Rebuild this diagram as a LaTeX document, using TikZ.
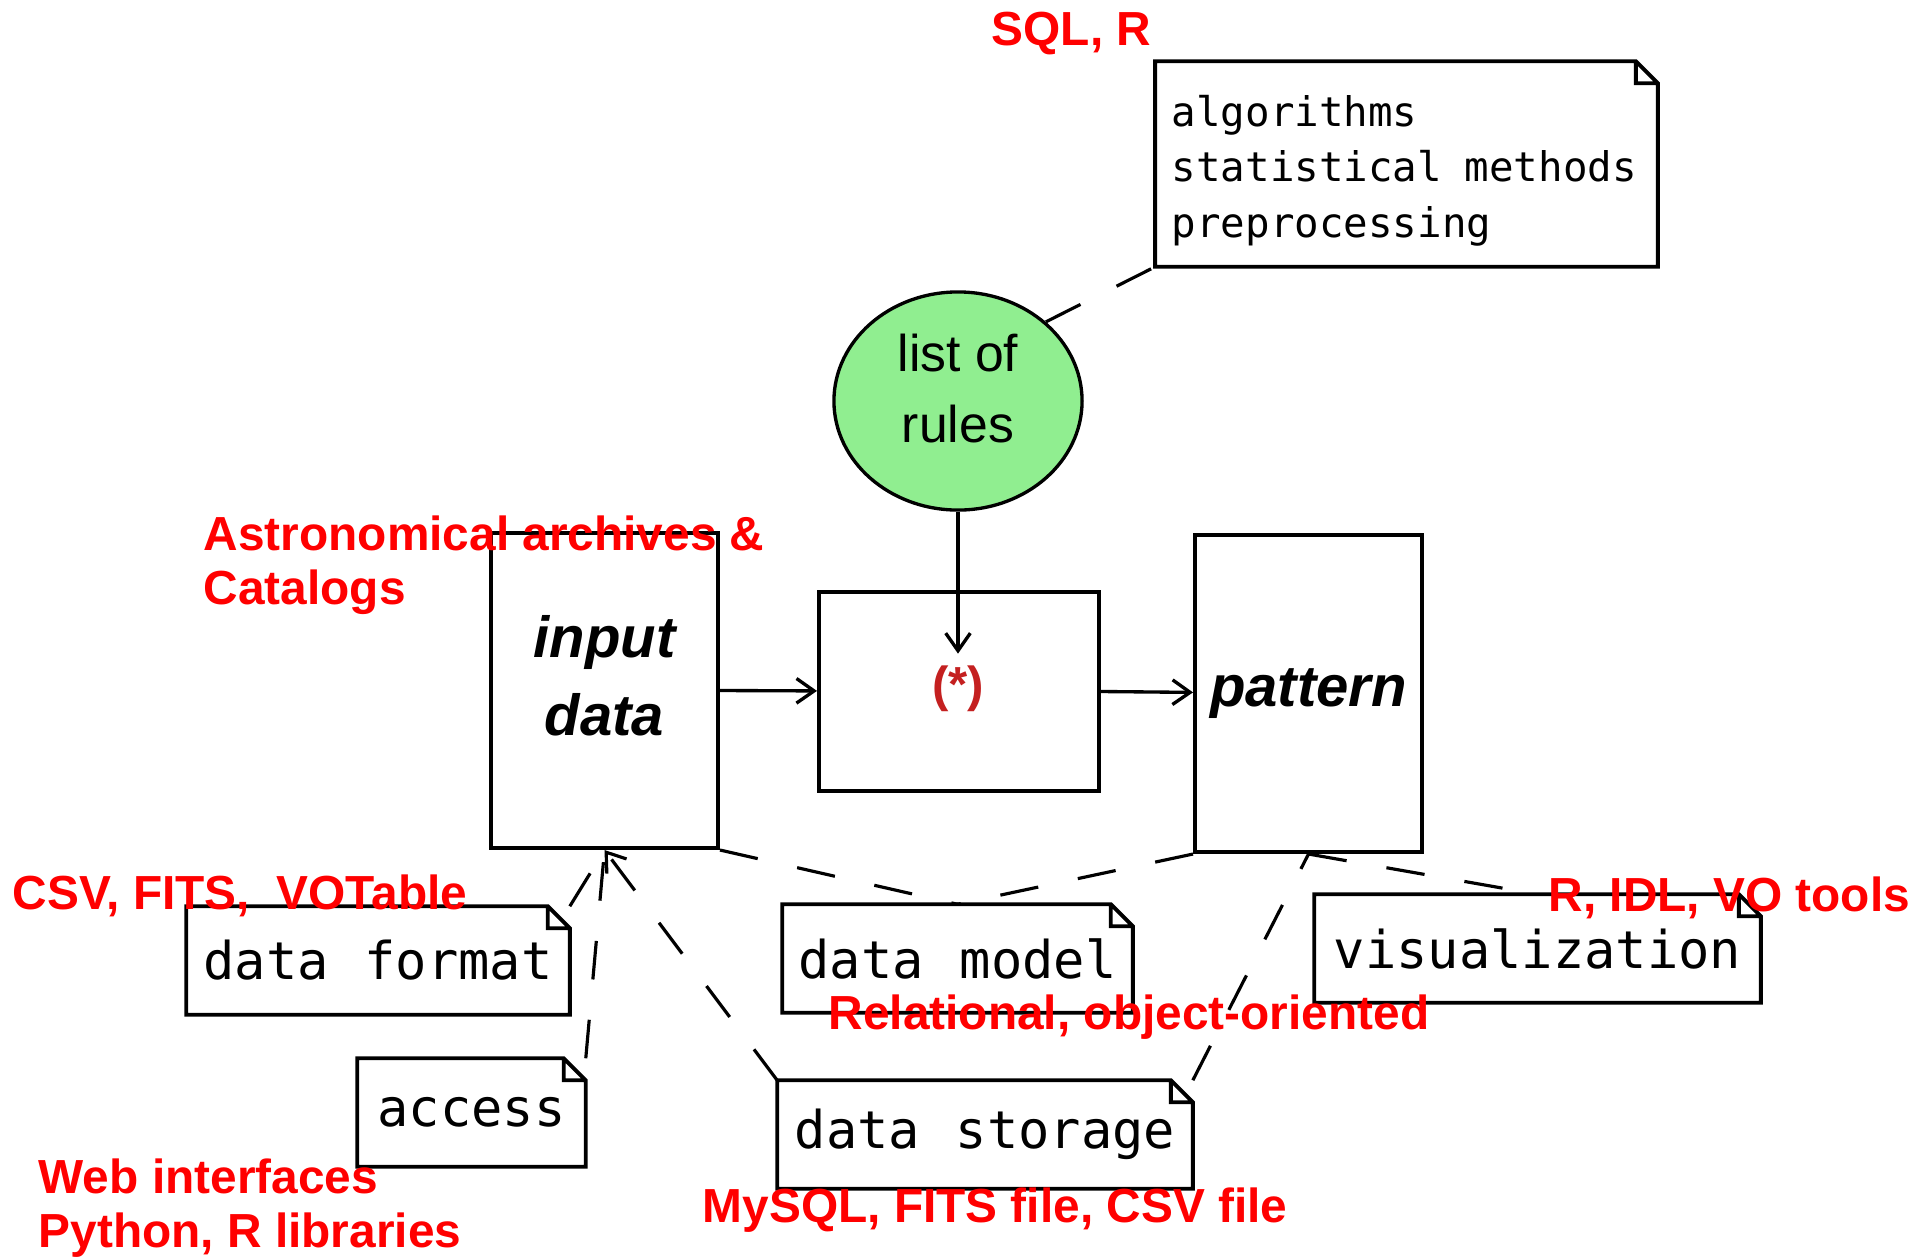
\documentclass[tikz,border=0pt]{standalone}
\usepackage{fontspec}
\setsansfont{Liberation Sans}
\setmonofont{DejaVu Sans Mono}
\usepackage{tikz}
\usetikzlibrary{arrows.meta,shapes.geometric}
\definecolor{rulegreen}{RGB}{144,238,144}
\definecolor{stardark}{RGB}{196,32,32}
\newcommand{\notefont}{\ttfamily\fontsize{14.8}{17}\selectfont\spaceskip=10.2pt\relax}
\newcommand{\smallnotefont}{\ttfamily\fontsize{11.6}{15.9}\selectfont}
\tikzstyle{block}=[draw,line width=1.1pt,rectangle,inner sep=0pt]
\tikzstyle{note}=[rectangle,inner sep=0pt,minimum height=1.07cm,font=\notefont]
\tikzstyle{tag}=[text=red,inner sep=0pt,align=left,font=\sffamily\bfseries\fontsize{13.6}{15.4}\selectfont]
\tikzstyle{dep}=[draw,line width=0.9pt,dash pattern=on 11pt off 11.5pt]
\tikzstyle{flow}=[draw,line width=0.95pt,-{Straight Barb[length=5pt,width=7pt]}]

\begin{document}
\begin{tikzpicture}[x=0.01cm,y=-0.01cm]
  \fill[white] (0,0) rectangle (1930,1257);
  \useasboundingbox (0,0) rectangle (1930,1257);

  % rules, input, method and result
  \node[draw,line width=0.95pt,ellipse,fill=rulegreen,minimum width=2.48cm,minimum height=2.18cm,inner sep=0pt,align=center,font=\sffamily\fontsize{14.7}{20.2}\selectfont] (rules) at (958,401) {list of\\rules\rule[-7pt]{0pt}{7pt}};
  \node[block,minimum width=2.27cm,minimum height=3.15cm,align=center,font=\sffamily\bfseries\itshape\fontsize{16.5}{22.2}\selectfont] (inp) at (604.5,690.5) {input\\data\rule[-8.6pt]{0pt}{8.6pt}};
  \node[block,minimum width=2.80cm,minimum height=1.99cm] (mid) at (959,691.5) {};
  \node[font=\sffamily\bfseries\fontsize{14}{16}\selectfont,text=stardark] (star) at (958,689) {(*)};
  \node[block,minimum width=2.27cm,minimum height=3.17cm,font=\sffamily\bfseries\itshape\fontsize{16.5}{22.2}\selectfont] (pat) at (1308.5,693.5) {pattern};

  % notes
  \node[note,inner xsep=0.16cm,align=left,text width=4.69cm,minimum height=2.04cm,font=\smallnotefont,execute at begin node={\spaceskip=6.5pt\relax}] (algo) at (1406.5,164) {\rule{0pt}{12.7pt}algorithms\\statistical methods\\preprocessing};
  \node[note,minimum width=3.82cm] (fmt) at (378,960.5) {data format};
  \node[note,minimum width=2.27cm] (acc) at (471.5,1112.5) {access};
  \node[note,minimum width=3.49cm] (model) at (957.5,958.5) {data model};
  \node[note,minimum width=4.14cm] (store) at (985,1134.5) {data storage};
  \node[note,minimum width=4.45cm] (vis) at (1537.5,948.5) {visualization};
  \foreach \n in {algo,fmt,acc,model,store,vis}
    \draw[line width=1.1pt] (\n.north west) -- ([xshift=-0.22cm]\n.north east) -- ([yshift=-0.22cm]\n.north east) -- (\n.south east) -- (\n.south west) -- cycle
      ([xshift=-0.22cm]\n.north east) |- ([yshift=-0.22cm]\n.north east);

  \draw[flow] (rules) -- (star);
  \draw[flow] (inp.east) -- (mid);
  \draw[flow] (mid.east) -- (pat);

  \draw[dep] (rules.42) -- (algo.south west);
  \draw[dep] (fmt.north east) -- (inp.south);
  \draw[dep] (acc.north east) -- (inp.south);
  \draw[dep,-{Straight Barb[length=5pt,width=7pt]}] (store.north west) -- (inp.south);
  \draw[dep] (inp.south east) -- (model.north);
  \draw[dep] (pat.south west) -- (model.north);
  \draw[dep] (store.north east) -- (pat.south);
  \draw[dep] (pat.south) -- (vis.north);

  % tools and formats
  \node[tag,anchor=base west] (sqlt) at (991,45) {SQL, R};
  \node[tag,anchor=west] (archt) at (203,565) {Astronomical archives \&\\Catalogs};
  \node[tag,anchor=base west] (fmtt) at (12,909) {CSV, FITS,\ \ VOTable};
  \node[tag,anchor=base west] (vist) at (1548,911) {R, IDL, VO tools};
  \node[tag,anchor=base west] (modelt) at (828,1029) {Relational, object-oriented};
  \node[tag,anchor=base west] (storet) at (702,1222) {MySQL, FITS file, CSV file};
  \node[tag,anchor=west] (acct) at (38,1208) {Web interfaces\\Python, R libraries};
\end{tikzpicture}
\end{document}
